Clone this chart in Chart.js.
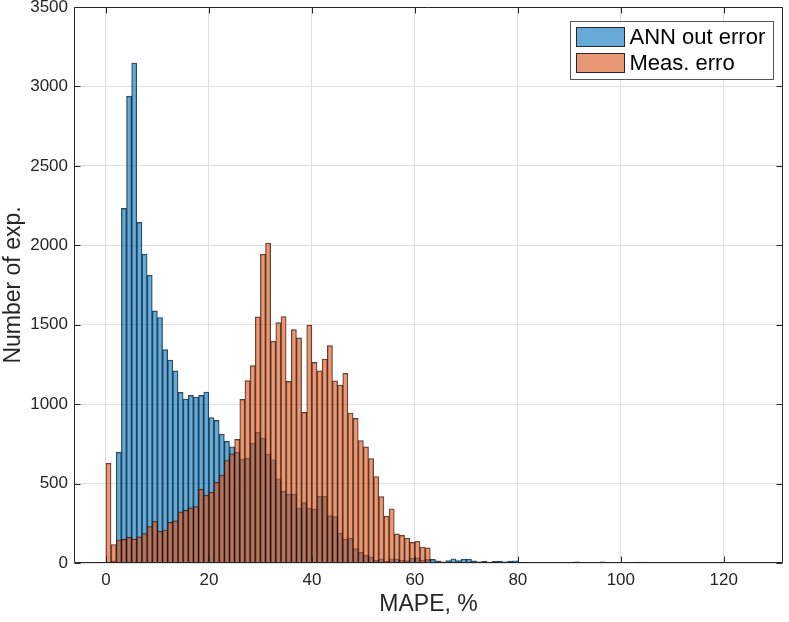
<!DOCTYPE html>
<html>
<head>
<meta charset="utf-8">
<script src="https://cdn.jsdelivr.net/npm/chart.js@4.4.1/dist/chart.umd.min.js"></script>
<style>
  html, body { margin: 0; padding: 0; background: #fff; }
</style>
</head>
<body>
<canvas id="chart" width="789" height="622"></canvas>
<script>
// histogram bins (width 1 %), value = bin centre
const binCenters = [
  0.5, 1.5, 2.5, 3.5, 4.5, 5.5, 6.5, 7.5, 8.5, 9.5,
  10.5, 11.5, 12.5, 13.5, 14.5, 15.5, 16.5, 17.5, 18.5, 19.5,
  20.5, 21.5, 22.5, 23.5, 24.5, 25.5, 26.5, 27.5, 28.5, 29.5,
  30.5, 31.5, 32.5, 33.5, 34.5, 35.5, 36.5, 37.5, 38.5, 39.5,
  40.5, 41.5, 42.5, 43.5, 44.5, 45.5, 46.5, 47.5, 48.5, 49.5,
  50.5, 51.5, 52.5, 53.5, 54.5, 55.5, 56.5, 57.5, 58.5, 59.5,
  60.5, 61.5, 62.5, 63.5, 64.5, 65.5, 66.5, 67.5, 68.5, 69.5,
  70.5, 71.5, 72.5, 73.5, 74.5, 75.5, 76.5, 77.5, 78.5, 79.5,
  80.5, 81.5, 82.5, 83.5, 84.5, 85.5, 86.5, 87.5, 88.5, 89.5,
  90.5, 91.5, 92.5, 93.5, 94.5, 95.5, 96.5, 97.5, 98.5, 99.5,
  100.5, 101.5, 102.5, 103.5, 104.5, 105.5, 106.5, 107.5, 108.5, 109.5,
  110.5, 111.5, 112.5, 113.5, 114.5, 115.5, 116.5, 117.5, 118.5, 119.5,
  120.5, 121.5, 122.5, 123.5, 124.5, 125.5
];

const annCounts = [
  0, 13, 698, 2232, 2939, 3147, 2144, 1944, 1812, 1587,
  1545, 1343, 1278, 1209, 1074, 1032, 1055, 1045, 1055, 1076,
  916, 898, 811, 767, 732, 698, 654, 660, 755, 824,
  786, 685, 650, 530, 452, 433, 433, 345, 380, 345,
  338, 420, 420, 298, 292, 187, 151, 156, 90, 67,
  48, 38, 17, 27, 11, 27, 25, 19, 15, 30,
  32, 19, 23, 23, 13, 8, 15, 27, 15, 25,
  25, 13, 8, 10, 6, 10, 12, 8, 12, 14,
  4, 3, 3, 2, 3, 2, 2, 3, 3, 4,
  6, 7, 5, 3, 2, 5, 7, 3, 2, 1,
  2, 3, 5, 6, 6, 4, 2, 1, 2, 1,
  1, 2, 1, 1, 2, 1, 1, 1, 2, 1,
  1, 1, 1, 1, 1, 1
];

const measCounts = [
  628, 116, 145, 149, 162, 151, 164, 185, 229, 263,
  200, 208, 256, 265, 322, 332, 347, 355, 465, 427,
  446, 509, 553, 645, 687, 778, 1030, 1148, 1242, 1549,
  1944, 2014, 1396, 1513, 1551, 1143, 1469, 1417, 948, 1497,
  1263, 1209, 1284, 1368, 1146, 1120, 1194, 944, 910, 771,
  731, 658, 544, 418, 294, 341, 183, 174, 156, 130,
  137, 101, 95
];

const seriesLabels = ['ANN out error', 'Meas. erro'];
const xTicks = [0, 20, 40, 60, 80, 100, 120];
const yTicks = [0, 500, 1000, 1500, 2000, 2500, 3000, 3500];

const axisColor = '#262626';
const fontFamily = '"Liberation Sans", Arial, sans-serif';
Chart.defaults.font.family = fontFamily;
Chart.defaults.color = axisColor;

// matlab style box, inward ticks and legend
const matlabFrame = {
  id: 'matlabFrame',
  afterDatasetsDraw(chart) {
    const {ctx, chartArea: a, scales: {x, y}} = chart;
    const L = Math.round(a.left) + 0.5, R = Math.round(a.right) - 0.5;
    const T = Math.round(a.top) + 0.5, B = Math.round(a.bottom) - 0.5;
    ctx.save();
    ctx.strokeStyle = axisColor;
    ctx.lineWidth = 1;
    ctx.beginPath();
    xTicks.forEach(v => {
      const px = Math.round(x.getPixelForValue(v)) + 0.5;
      ctx.moveTo(px, B); ctx.lineTo(px, B - 6);
      ctx.moveTo(px, T); ctx.lineTo(px, T + 6);
    });
    yTicks.forEach(v => {
      const py = Math.round(y.getPixelForValue(v)) + 0.5;
      ctx.moveTo(L, py); ctx.lineTo(L + 6, py);
      ctx.moveTo(R, py); ctx.lineTo(R - 6, py);
    });
    ctx.rect(L, T, R - L, B - T);
    ctx.stroke();
    ctx.restore();
  },
  afterDraw(chart) {
    const {ctx, chartArea: a} = chart;
    const sets = chart.data.datasets;
    ctx.save();
    ctx.font = '22px ' + fontFamily;
    const textW = Math.max(...sets.map(d => ctx.measureText(d.label).width));
    const w = Math.round(6 + 48 + 5 + textW + 8);
    const h = 58;
    const bx = Math.round(a.right) - 10 - w + 0.5;
    const by = Math.round(a.top) + 14 + 0.5;
    ctx.fillStyle = '#fff';
    ctx.fillRect(bx, by, w, h);
    ctx.strokeStyle = '#555';
    ctx.lineWidth = 1;
    ctx.strokeRect(bx, by, w, h);
    sets.forEach((d, i) => {
      const sy = by + 6 + i * 26;
      ctx.fillStyle = d.backgroundColor;
      ctx.fillRect(bx + 6, sy, 48, 19);
      ctx.strokeStyle = axisColor;
      ctx.strokeRect(bx + 6, sy, 48, 19);
      ctx.fillStyle = '#000';
      ctx.textBaseline = 'middle';
      ctx.fillText(d.label, bx + 59, sy + 10);
    });
    ctx.restore();
  }
};

const barStyle = {
  borderColor: 'rgba(0,0,0,0.75)',
  borderWidth: 0.7,
  barPercentage: 1,
  categoryPercentage: 1,
  grouped: false
};

new Chart(document.getElementById('chart'), {
  type: 'bar',
  data: {
    datasets: [
      {
        label: seriesLabels[0],
        data: annCounts.map((v, i) => ({x: binCenters[i], y: v})),
        backgroundColor: 'rgba(0,114,189,0.6)',
        order: 1,
        ...barStyle
      },
      {
        label: seriesLabels[1],
        data: measCounts.map((v, i) => ({x: binCenters[i], y: v})),
        backgroundColor: 'rgba(217,83,25,0.6)',
        order: 0,
        ...barStyle
      }
    ]
  },
  options: {
    responsive: false,
    animation: false,
    layout: { padding: { top: 7, right: 6, left: 0, bottom: 0 } },
    plugins: {
      legend: { display: false },
      tooltip: { enabled: false }
    },
    scales: {
      x: {
        type: 'linear',
        offset: false,
        min: -6.2,
        max: 131.5,
        afterBuildTicks: s => { s.ticks = xTicks.map(v => ({value: v})); },
        afterFit: s => { s.height = 59; s.paddingLeft = 0; s.paddingRight = 0; },
        grid: { color: '#dfdfdf', drawTicks: false, offset: false },
        border: { display: false },
        ticks: { font: { size: 17 }, padding: 7, maxRotation: 0, callback: v => String(v) },
        title: { display: true, text: 'MAPE, %', font: { size: 23 }, padding: { top: 0, bottom: 4 } }
      },
      y: {
        min: 0,
        max: 3500,
        afterBuildTicks: s => { s.ticks = yTicks.map(v => ({value: v})); },
        afterFit: s => { s.width = 74; s.paddingTop = 0; s.paddingBottom = 0; },
        grid: { color: '#dfdfdf', drawTicks: false },
        border: { display: false },
        ticks: { font: { size: 17 }, padding: 6, callback: v => String(v) },
        title: { display: true, text: 'Number of exp.', font: { size: 23 }, padding: { top: 0, bottom: 0 } }
      }
    }
  },
  plugins: [matlabFrame]
});
</script>
</body>
</html>
